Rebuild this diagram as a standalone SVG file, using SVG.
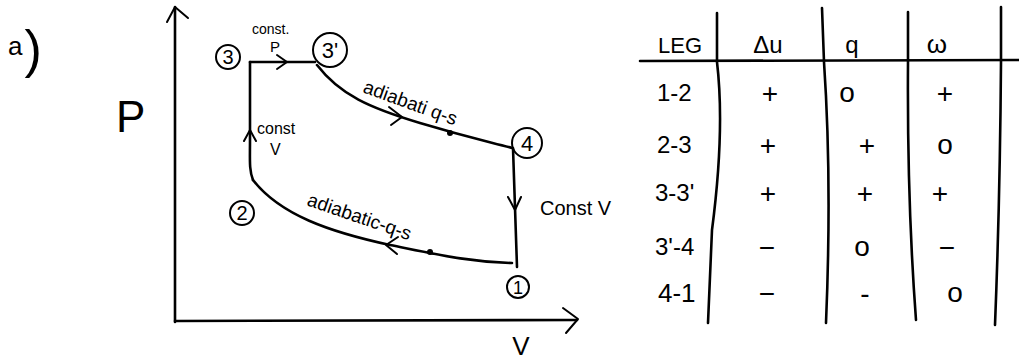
<svg xmlns="http://www.w3.org/2000/svg" width="1019" height="362" viewBox="0 0 1019 362">
<style>
.ln{fill:none;stroke:#000;stroke-width:2.6;stroke-linecap:round;stroke-linejoin:round}
.thin{fill:none;stroke:#000;stroke-width:2;stroke-linecap:round;stroke-linejoin:round}
.t{font-family:"Liberation Sans",Arial,sans-serif;fill:#000}
.c{fill:none;stroke:#000;stroke-width:2}
</style>
<rect width="1019" height="362" fill="#fff"/>
<text class="t" x="8" y="55" font-size="26">a<tspan font-size="52" dx="2" dy="12">)</tspan></text>
<text class="t" x="116" y="132" font-size="44">P</text>
<g id="axes">
<path class="ln" d="M175,322 L175,7"/>
<path class="thin" d="M167,22 L175,7 L188,18"/>
<path class="ln" d="M175,321 L577,320"/>
<path class="thin" d="M563,308 L578,319 L566,333"/>
<text class="t" x="521" y="355" font-size="26" text-anchor="middle">V</text>
</g>
<g id="connectors">
<path class="ln" d="M250,62 L315,62"/>
<path class="thin" d="M277,55 L287,62 L277,69"/>
<path class="ln" d="M317,65 C340,95 370,108 420,123 S490,142 512,148"/>
<path class="thin" d="M389,107 L402,117 L391,125"/>
<circle cx="450" cy="133" r="3"/>
<path class="ln" d="M513,148 L517,267"/>
<path class="thin" d="M508,197 L515,210 L521,197"/>
<path class="ln" d="M512,263 C470,262 440,255 390,245 C330,232 280,215 253,180"/>
<path class="thin" d="M398,237 L386,245 L397,254"/>
<circle cx="430" cy="252" r="3"/>
<path class="ln" d="M253,180 C249,170 250,160 250,140 L250,62"/>
<path class="thin" d="M244,141 L250,130 L256,141"/>
</g>
<g id="node3"><circle class="c" cx="228" cy="57" r="12"/><text class="t" x="228" y="64" font-size="20" text-anchor="middle">3</text></g>
<g id="node3p"><circle class="c" cx="330" cy="50" r="17"/><text class="t" x="330" y="58" font-size="22" text-anchor="middle">3'</text></g>
<g id="node4"><circle class="c" cx="527" cy="143" r="15"/><text class="t" x="527" y="151" font-size="22" text-anchor="middle">4</text></g>
<g id="node2"><circle class="c" cx="242" cy="213" r="12"/><text class="t" x="242" y="220" font-size="20" text-anchor="middle">2</text></g>
<g id="node1"><circle class="c" cx="518" cy="287" r="11"/><text class="t" x="518" y="294" font-size="18" text-anchor="middle">1</text></g>
<g id="labels">
<text class="t" x="252" y="34" font-size="14">const.</text>
<text class="t" x="270" y="52" font-size="15">P</text>
<text class="t" x="257" y="134" font-size="16">const</text>
<text class="t" x="270" y="155" font-size="16">V</text>
<text class="t" x="540" y="215" font-size="20">Const V</text>
<text class="t" x="362" y="92" font-size="19" transform="rotate(20 362 92)">adiabati q-s</text>
<text class="t" x="306" y="205" font-size="19" transform="rotate(19 306 205)">adiabatic-q-s</text>
</g>
<g id="table">
<path class="ln" d="M640,61 L1019,60"/>
<path class="ln" d="M717,13 L717,62 Q725,130 712,230 L708,323"/>
<path class="ln" d="M822,8 L824,62 Q832,180 826,323"/>
<path class="ln" d="M908,12 L908,62 Q907,200 916,320"/>
<path class="ln" d="M1001,7 L1001,62 Q1000,200 995,325"/>
<g class="t" font-size="22">
<text x="658" y="53">LEG</text>
<text x="768" y="53" text-anchor="middle" font-size="24">Δu</text>
<text x="852" y="53" text-anchor="middle" font-size="24">q</text>
<text x="937" y="53" text-anchor="middle" font-size="26">ω</text>
<text x="657" y="101" font-size="24">1-2</text>
<text x="657" y="153" font-size="24">2-3</text>
<text x="655" y="201" font-size="24">3-3'</text>
<text x="655" y="255" font-size="24">3'-4</text>
<text x="658" y="302" font-size="26">4-1</text>
</g>
<g class="t" font-size="28" text-anchor="middle">
<text x="770" y="103">+</text>
<text x="847" y="102">o</text>
<text x="945" y="103">+</text>
<text x="768" y="155">+</text>
<text x="867" y="155">+</text>
<text x="945" y="154">o</text>
<text x="768" y="203">+</text>
<text x="865" y="203">+</text>
<text x="940" y="203">+</text>
<text x="767" y="257">−</text>
<text x="862" y="256">o</text>
<text x="947" y="257">−</text>
<text x="767" y="303">−</text>
<text x="865" y="303">-</text>
<text x="955" y="302">o</text>
</g>
</g>
</svg>
